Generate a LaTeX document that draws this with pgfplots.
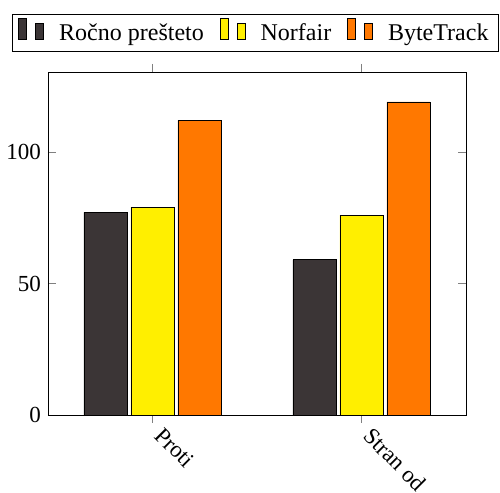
\documentclass[border=0pt]{standalone}
\usepackage{fontspec}
\setmainfont{Liberation Serif}
\usepackage{pgfplots}
\pgfplotsset{compat=1.18}
\definecolor{cdark}{HTML}{3B3536}
\definecolor{cyel}{HTML}{FFEF00}
\definecolor{corg}{HTML}{FF7800}
\begin{document}
\begin{tikzpicture}
\begin{axis}[
  name=ax,
  scale only axis,
  width=209pt, height=171.5pt,
  ybar, bar width=21.5pt, bar shift auto,
  xmin=-0.5, xmax=1.5, ymin=0, ymax=130.4,
  xtick=data, xticklabels={Proti, Stran od},
  ytick={0,50,100},
  tick label style={font=\fontsize{11.5}{14}\selectfont},
  x tick label style={xshift=6pt, rotate=-45, anchor=north west, inner sep=1pt},
  tick align=inside,
  xtick align=outside,
  major tick length=4pt,
  tick style={gray, thin},
  /pgf/number format/assume math mode=true,
  legend style={at={(0,1)}, anchor=south west, xshift=-18pt, yshift=10pt,
    legend columns=-1, draw=black, font=\large, inner ysep=2pt,
    /tikz/every odd column/.append style={column sep=5.5pt},
    /tikz/every even column/.append style={column sep=6pt}},
  legend image code/.code={
    \draw[#1] (0pt,-3pt) rectangle (4pt,7.5pt);
    \draw[#1] (8.5pt,-3pt) rectangle (12.5pt,5pt);
  },
]
\addplot[fill=cdark, draw=black] coordinates {(0,77) (1,59)};
\addplot[fill=cyel, draw=black] coordinates {(0,79) (1,76)};
\addplot[fill=corg, draw=black] coordinates {(0,112) (1,119)};
\legend{Ročno prešteto, Norfair, ByteTrack}
\end{axis}
\pgfresetboundingbox
\path[use as bounding box] ([xshift=-24pt, yshift=-39pt]ax.south west) rectangle ([xshift=17pt, yshift=36pt]ax.north east);
\end{tikzpicture}
\end{document}
